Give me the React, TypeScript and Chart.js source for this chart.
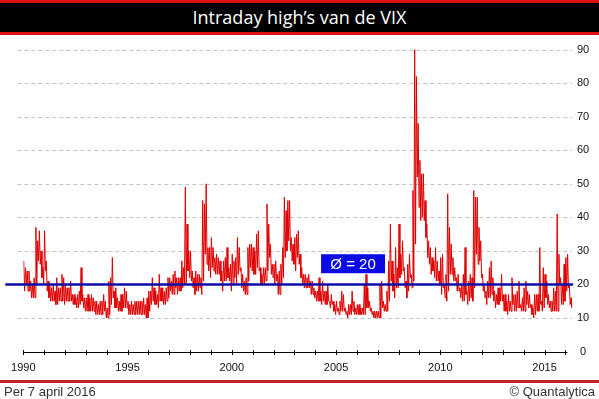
import React, { useEffect, useRef } from "react";
import { Chart, registerables } from "chart.js";

Chart.register(...registerables);

// Monthly range of the VIX intraday high (Jan 1990 .. Apr 2016)
const startYear = 1990;
const monthlyHighs: number[] = [
  // 1990
  27, 25, 24, 24, 21, 20, 22, 37, 33, 36, 30, 25,
  // 1991
  36, 27, 21, 20, 19, 20, 18, 22, 19, 19, 23, 22,
  // 1992
  20, 19, 19, 21, 17, 17, 16, 17, 18, 25, 17, 16,
  // 1993
  16, 17, 16, 17, 16, 15, 15, 14, 15, 15, 17, 15,
  // 1994
  13, 21, 22, 28, 18, 19, 16, 15, 17, 17, 19, 18,
  // 1995
  15, 14, 15, 14, 15, 15, 15, 15, 15, 16, 14, 16,
  // 1996
  18, 18, 22, 19, 18, 17, 23, 19, 19, 18, 19, 22,
  // 1997
  22, 21, 23, 24, 22, 22, 22, 27, 25, 49, 38, 30,
  // 1998
  30, 24, 22, 24, 23, 23, 22, 45, 44, 50, 31, 31,
  // 1999
  34, 31, 28, 29, 28, 27, 24, 27, 28, 31, 25, 26,
  // 2000
  29, 27, 28, 34, 31, 25, 23, 21, 22, 31, 32, 32,
  // 2001
  31, 30, 35, 36, 25, 23, 25, 25, 44, 38, 32, 26,
  // 2002
  26, 27, 23, 24, 26, 31, 46, 42, 45, 45, 34, 32,
  // 2003
  34, 35, 36, 29, 25, 23, 23, 22, 23, 21, 21, 19,
  // 2004
  18, 18, 22, 18, 21, 18, 18, 20, 15, 17, 15, 14,
  // 2005
  15, 13, 15, 18, 17, 13, 12, 14, 14, 18, 15, 13,
  // 2006
  14, 14, 13, 13, 20, 23, 19, 15, 13, 12, 12, 12,
  // 2007
  12, 20, 21, 15, 14, 18, 27, 38, 27, 23, 31, 25,
  // 2008
  38, 29, 33, 25, 21, 26, 29, 23, 48, 90, 82, 68,
  // 2009
  57, 53, 53, 45, 38, 33, 31, 28, 27, 31, 27, 24,
  // 2010
  28, 29, 20, 23, 47, 37, 32, 28, 25, 22, 23, 19,
  // 2011
  20, 23, 31, 18, 21, 23, 22, 48, 46, 46, 37, 33,
  // 2012
  23, 20, 18, 21, 25, 27, 22, 18, 17, 19, 19, 23,
  // 2013
  17, 17, 15, 17, 15, 22, 17, 17, 18, 21, 14, 16,
  // 2014
  19, 21, 18, 17, 14, 13, 17, 17, 17, 31, 15, 25,
  // 2015
  23, 21, 17, 15, 15, 19, 18, 41, 29, 22, 20, 26,
  // 2016
  28, 29, 20, 16,
];
const monthlyLows: number[] = [
  // 1990
  18, 20, 18, 18, 16, 16, 16, 20, 27, 26, 22, 20,
  // 1991
  24, 18, 16, 15, 15, 15, 14, 14, 15, 15, 15, 14,
  // 1992
  15, 15, 15, 15, 14, 14, 13, 13, 14, 15, 13, 12,
  // 1993
  12, 12, 12, 12, 12, 11, 11, 11, 11, 11, 12, 10,
  // 1994
  10, 11, 14, 16, 13, 13, 12, 12, 12, 13, 13, 13,
  // 1995
  11, 11, 11, 11, 11, 11, 11, 11, 11, 11, 10, 10,
  // 1996
  12, 14, 15, 14, 14, 13, 15, 15, 14, 14, 15, 16,
  // 1997
  18, 17, 17, 19, 17, 18, 18, 19, 20, 20, 24, 22,
  // 1998
  21, 19, 17, 18, 18, 19, 17, 21, 29, 26, 24, 22,
  // 1999
  25, 24, 23, 23, 23, 21, 18, 21, 21, 22, 21, 18,
  // 2000
  20, 22, 20, 23, 24, 19, 18, 17, 17, 21, 25, 24,
  // 2001
  23, 23, 25, 24, 20, 20, 20, 21, 24, 28, 23, 22,
  // 2002
  20, 21, 17, 17, 20, 22, 28, 30, 33, 30, 27, 26,
  // 2003
  24, 28, 26, 22, 20, 19, 19, 19, 19, 17, 17, 16,
  // 2004
  15, 15, 15, 14, 15, 14, 14, 15, 13, 14, 12, 11,
  // 2005
  12, 11, 12, 12, 12, 11, 10, 11, 11, 12, 11, 11,
  // 2006
  11, 11, 11, 11, 11, 13, 13, 12, 11, 10, 10, 10,
  // 2007
  10, 10, 13, 12, 12, 12, 15, 21, 18, 16, 19, 19,
  // 2008
  22, 23, 24, 19, 16, 18, 22, 19, 21, 32, 52, 43,
  // 2009
  39, 40, 39, 34, 28, 26, 23, 24, 22, 21, 21, 20,
  // 2010
  17, 19, 16, 15, 18, 23, 23, 21, 21, 18, 18, 16,
  // 2011
  15, 15, 17, 14, 15, 16, 15, 19, 29, 26, 27, 22,
  // 2012
  18, 16, 14, 16, 16, 17, 15, 13, 14, 14, 15, 15,
  // 2013
  12, 12, 11, 12, 12, 14, 12, 12, 13, 13, 12, 12,
  // 2014
  12, 14, 13, 13, 11, 10, 11, 12, 12, 14, 12, 13,
  // 2015
  16, 14, 13, 12, 12, 12, 12, 12, 20, 14, 14, 15,
  // 2016
  18, 19, 14, 13,
];

const meanValue = 20;
const yTickValues = [0, 10, 20, 30, 40, 50, 60, 70, 80, 90];
const xTickYears = [
  1990, 1991, 1992, 1993, 1994, 1995, 1996, 1997, 1998, 1999, 2000, 2001, 2002,
  2003, 2004, 2005, 2006, 2007, 2008, 2009, 2010, 2011, 2012, 2013, 2014, 2015, 2016,
];
const xLabelYears = [1990, 1995, 2000, 2005, 2010, 2015];
const titleText = "Intraday high\u2019s van de VIX";
const footerLeft = "Per 7 april 2016";
const footerRight = "\u00A9 Quantalytica";

const AXIS_FONT = '11px "Liberation Sans", Arial, sans-serif';

const customPlugin = {
  id: "customDecor",
  beforeDatasetsDraw(chart: any) {
    const { ctx, chartArea, scales } = chart;
    const x = scales.x;
    const y = scales.y;
    ctx.save();
    // dashed grid
    ctx.strokeStyle = "#c4c4c4";
    ctx.lineWidth = 1;
    ctx.setLineDash([4, 3]);
    for (const v of yTickValues) {
      if (v === 0) continue;
      const py = Math.round(y.getPixelForValue(v)) + 0.5;
      ctx.beginPath();
      ctx.moveTo(chartArea.left - 6, py);
      ctx.lineTo(chartArea.right, py);
      ctx.stroke();
    }
    ctx.setLineDash([]);
    // x axis line
    const p0 = Math.round(y.getPixelForValue(0)) + 0.5;
    ctx.strokeStyle = "#000";
    ctx.beginPath();
    ctx.moveTo(x.getPixelForValue(1990), p0);
    ctx.lineTo(x.getPixelForValue(2016) + 2, p0);
    ctx.stroke();
    for (const yr of xTickYears) {
      const px = Math.round(x.getPixelForValue(yr)) + 0.5;
      ctx.beginPath();
      ctx.moveTo(px, p0 - 2.5);
      ctx.lineTo(px, p0 + 2.5);
      ctx.stroke();
    }
    ctx.fillStyle = "#111";
    ctx.font = AXIS_FONT;
    ctx.textAlign = "center";
    ctx.textBaseline = "middle";
    for (const yr of xLabelYears) {
      ctx.fillText(String(yr), x.getPixelForValue(yr), p0 + 15);
    }
    for (const v of yTickValues) {
      ctx.fillText(String(v), chartArea.right + 11, y.getPixelForValue(v));
    }
    ctx.restore();
  },
  afterDatasetsDraw(chart: any) {
    const { ctx, chartArea, scales } = chart;
    const x = scales.x;
    const y = scales.y;
    ctx.save();
    const pm = y.getPixelForValue(meanValue);
    ctx.strokeStyle = "#0c0caa";
    ctx.lineWidth = 2.5;
    ctx.beginPath();
    ctx.moveTo(chartArea.left - 18, pm);
    ctx.lineTo(chartArea.right + 1, pm);
    ctx.stroke();
    // label box
    const bx = x.getPixelForValue(2004.28);
    const by = y.getPixelForValue(29);
    const bw = 64;
    const bh = 19;
    ctx.fillStyle = "#0a0ae6";
    ctx.fillRect(bx, by, bw, bh);
    ctx.fillStyle = "#fff";
    ctx.font = '15px "Liberation Sans", Arial, sans-serif';
    ctx.textAlign = "center";
    ctx.textBaseline = "middle";
    ctx.fillText(`\u00D8 = ${meanValue}`, bx + bw / 2, by + bh / 2 + 1);
    ctx.restore();
  },
};

export default function App() {
  const canvasRef = useRef<HTMLCanvasElement | null>(null);

  useEffect(() => {
    if (!canvasRef.current) return;
    const points: { x: number; y: number }[] = [];
    for (let i = 0; i < monthlyHighs.length; i++) {
      points.push({ x: startYear + (i + 0.25) / 12, y: monthlyHighs[i] });
      points.push({ x: startYear + (i + 0.75) / 12, y: monthlyLows[i] });
    }
    const chart = new Chart(canvasRef.current, {
      type: "line",
      data: {
        datasets: [
          {
            data: points,
            borderColor: "rgb(222,0,0)",
            borderWidth: 1,
            pointRadius: 0,
            tension: 0,
            fill: false,
          },
        ],
      },
      options: {
        animation: false,
        responsive: false,
        devicePixelRatio: 1,
        layout: { padding: { left: 23.3, right: 26.9, top: 16.1, bottom: 47.5 } },
        plugins: { legend: { display: false }, tooltip: { enabled: false } },
        scales: {
          x: { type: "linear", min: 1990, max: 2016.32, display: false },
          y: { type: "linear", min: 0, max: 100, display: false },
        },
      },
      plugins: [customPlugin],
    });
    return () => chart.destroy();
  }, []);

  const font = '"Liberation Sans", Arial, sans-serif';
  return (
    <div
      style={{
        position: "absolute",
        left: 0,
        top: 0,
        width: 599,
        height: 399,
        background: "#fff",
        overflow: "hidden",
        fontFamily: font,
      }}
    >
      <canvas ref={canvasRef} width={599} height={399} style={{ position: "absolute", left: 0, top: 0 }} />
      <div
        style={{
          position: "absolute",
          left: 0,
          top: 0,
          width: 599,
          height: 29,
          background: "#000",
          borderTop: "3px solid #dd1111",
          borderBottom: "3px solid #dd1111",
          color: "#fff",
          fontFamily: '"Open Sans", sans-serif',
          fontSize: 18,
          lineHeight: "29px",
          textAlign: "center",
        }}
      >
        {titleText}
      </div>
      <div style={{ position: "absolute", left: 0, top: 380, width: 599, height: 3, background: "#c42026" }} />
      <div style={{ position: "absolute", left: 4, top: 384, fontSize: 13, color: "#333", lineHeight: "15px" }}>
        {footerLeft}
      </div>
      <div style={{ position: "absolute", right: 4, top: 384, fontSize: 13, color: "#333", lineHeight: "15px" }}>
        {footerRight}
      </div>
    </div>
  );
}
